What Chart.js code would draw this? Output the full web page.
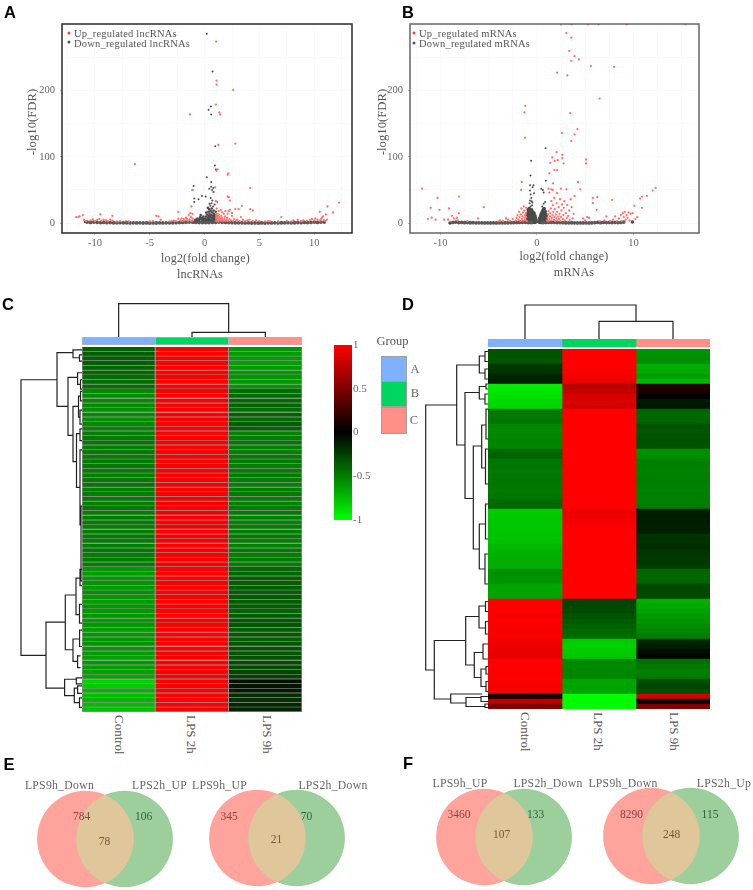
<!DOCTYPE html>
<html>
<head>
<meta charset="utf-8">
<title>lncRNA and mRNA expression panels</title>
<script src="https://cdn.jsdelivr.net/npm/chart.js@4"></script>
<style>
  html, body { margin: 0; padding: 0; background: #fff; }
  #page { position: relative; width: 753px; height: 890px; overflow: hidden; font-family: "Liberation Serif", serif; }
  #page canvas, #page .lbl { position: absolute; }
  .lbl { white-space: nowrap; color: #666; }
  .panel { font-family: "Liberation Sans", sans-serif; font-weight: bold; font-size: 16.5px; color: #000; }
</style>
</head>
<body>
<div id="page"></div>
<script>
// ---- panel A: volcano, lncRNAs [log2FC, -log10FDR]
const upA = [[1.06,274],[1.09,215],[1.09,209],[2.6,201],[1.03,179],[1.34,167],[1.43,164],[-1.34,164],[1.25,118],[2.8,120],[-6.35,89],[1.18,81],[1.09,79],[2.16,75],[2.1,73],[4.16,53],[.97,54],[2.1,40],[2.2,39],[2.3,34],[1.03,33],[1.15,32],[3.4,26],[2.8,21],[3.1,21],[4.16,21],[4.4,19],[-2.4,17],[-1.2,25],[-1.1,50],[11.2,25],[12.25,31],[11.7,16],[10.5,17],[11.06,13],[10.8,10],[11.15,5],[7,9],[-8.4,11],[-9.5,13],[-11.1,12],[-11.4,10],[-11.7,9],[-11.5,9.5],
  [1.05,3],[1.05,6],[1.05,9],[1.05,12],[1.1,14],[1.15,4],[1.15,8],[1.2,11],[1.25,2.5],[1.3,6],[1.3,13],[1.35,9],[1.4,4],[1.45,7],[1.5,3],[1.5,11],[1.6,5],[1.6,8],[1.7,3],[1.75,14],[1.8,6],[1.85,10],[1.9,3],[2,5],[2.05,8],[2.15,3],[2.2,18],[2.25,6],[2.4,4],[2.5,11],[2.6,3],[2.7,6],[2.9,3.5],[3,5],[3.2,3],[3.5,5],[3.7,3],[3.9,4],[4.1,5],[4.4,3],[4.7,4],[5,3],[5.5,2.5],[1.1,22],[1.3,18],[1.5,20],[1.6,16],[1.9,18],[2.1,14],[2.3,20],[2.5,15],[3.3,9],
  [-1.05,4],[-1.1,7],[-1.2,3],[-1.25,9],[-1.35,5],[-1.45,12],[-1.5,3.5],[-1.6,6],[-1.7,8],[-1.8,4],[-1.9,6],[-2,3],[-2.1,7],[-2.2,4],[-2.4,6.5],[-2.6,3],[-2.8,3.5],[-3,3],[-3.2,2.5],[-4,5],[-4.2,10],[-4.4,11],[-4.7,3],[-5,2.5],[-1.1,14],[-1.3,15],
  [-11,5],[-10.8,3],[-10.4,4],[-10.2,5.5],[-10,3],[-9.8,4.5],[-9.6,6],[-9.4,3.5],[-9.2,5],[-9,4],[-8.8,3],[-8.6,5],[-8.4,3.5],[-8,2.5],[-7.7,3],[-7.2,3],[-6.9,2.5],
  [5.8,3],[6,2.5],[6.7,2.5],[7.5,3],[7.9,2.5],[8.1,4],[8.5,5],[8.8,3],[9,4],[9.3,3.5],[9.6,4.5],[9.8,6],[10,4],[10.1,7],[10.3,5],[10.5,3.5],[10.6,6],[10.7,8],[10.9,4.5],[11,3]];
const downA = [[.2,286],[.73,229],[.36,171],[.58,176],[.6,164],[.97,116],[.94,87],[1.03,81],[.2,69],[.6,62],[-1,56],[-1.1,50],[.43,52],[.8,53],[.6,55],[.82,47],[.68,50],[-.24,41],[-.94,37],[-.55,36],[-.94,32],[.1,40],[-10.9,1.5],
  [-1,1],[-.9,3],[-.85,5],[-.8,2],[-.7,4],[-.65,7],[-.6,1.5],[-.5,3],[-.45,6],[-.4,9],[-.3,2],[-.25,5],[-.2,8],[-.1,3],[-.05,1],[0,4],[.05,7],[.1,2],[.15,10],[.2,5],[.22,13],[.25,1],[.3,8],[.32,3],[.35,17],[.38,11],[.4,6],[.42,21],[.45,14],[.48,2],[.5,9],[.52,26],[.55,18],[.58,5],[.6,12],[.62,30],[.65,22],[.68,8],[.7,16],[.72,3],[.75,11],[.78,25],[.8,6],[.82,19],[.85,14],[.88,9],[.9,2],[.92,28],[.95,12],[.98,6],[1,3],[1.02,17],[1,10],[.7,34],[.55,38],[.45,29],[.3,23],[.15,16],[-.1,10],[-.35,12],[.6,3],[.4,2],[.2,3],[0,1.5],[-.2,1.5],[-.5,1],[.75,1.5],[.9,5],[.65,4],[.5,4.5],[.3,5],[.1,5],[-.1,6],[-.3,7],[-.55,4.5],[-.75,1.5],[-.95,2]];
const bandA = [[-10.7,1.5],[-10.4,1],[-10.1,1.5],[-9.8,1],[-9.5,.8],[-9.2,1],[-8.9,.6],[-8.6,.8],[-8.3,.5],[-8,.4],[-7.7,.6],[-7.4,.3],[-7.1,.5],[-6.8,.2],[-6.5,.3],[-6.2,.2],[-5.9,.3],[-5.6,.1],[-5.3,.2],[-5,.1],[-4.7,.2],[-4.4,.1],[-4.1,.3],[-3.8,.2],[-3.5,.4],[-3.2,.3],[-2.9,.5],[-2.6,.6],[-2.3,.8],[-2,1],[-1.7,1.2],[-1.4,1.5],[-1.1,1.5],[-.8,1],[-.5,.8],[-.2,.8],[.1,.8],[.4,.8],[.7,1],[1,1.2],[1.3,1.5],[1.6,1.2],[1.9,1],[2.2,.8],[2.5,.6],[2.8,.5],[3.1,.3],[3.4,.4],[3.7,.2],[4,.3],[4.3,.1],[4.6,.2],[4.9,.1],[5.2,.2],[5.5,.1],[5.8,.3],[6.1,.2],[6.4,.3],[6.7,.2],[7,.5],[7.3,.3],[7.6,.6],[7.9,.4],[8.2,.5],[8.5,.8],[8.8,.6],[9.1,1],[9.4,.8],[9.7,1],[10,1.5],[10.3,1],[10.6,1.5],[10.9,1.5]];

// ---- panel B: volcano, mRNAs
const upB = [[2.5,300],[3.6,300],[5.3,300],[6.4,300],[9.3,300],[15.4,300],[3.05,287],[3.56,280],[3.36,260],[3.9,252],[4.36,247],[3.56,245],[5.6,237],[8,236],[2.1,227],[3.15,223],[6.5,188],[3.46,166],[-1.2,177],[-1.3,167],[-1.25,129],[4.2,142],[3.9,134],[2.6,136],[3.56,124],[2.04,107],[2.63,103],[2.63,98],[1.6,99],[1.83,94],[2.15,95],[5.1,96],[5.1,90],[2.77,90],[1.38,91],[1.83,80],[2.1,80],[1.3,75],[1.66,60],[4.26,62],[-1.56,62],[-1.63,50],[3.05,51],[4.5,51],[1.2,52],[1.5,51],[1.65,50],[1.3,46],[3.9,41],[5.8,38],[6.26,39],[5.8,30],[7.8,35],[6.2,20],[12.3,53],[12,49],[11.4,41],[10.9,40],[10.7,37],[10.9,23],[10.1,26],[-11.9,52],[-10.3,38],[-8.06,40],[-11,23],[-10.1,20],[-9.1,22],[-5.5,24],[-11.3,6],[-10.9,8],[-10.5,5],[-9.6,5],[-9.2,5],[-8.8,11],[-8.6,7],[-8.3,8],[-8.1,15],[-8.2,4],[-6.1,7],[-7.2,3],
  [-2.2,4],[-2.1,8],[-2,12],[-1.9,5],[-1.85,17],[-1.8,9],[-1.7,3],[-1.65,13],[-1.6,22],[-1.55,6],[-1.5,10],[-1.45,16],[-1.4,3.5],[-1.35,25],[-1.3,8],[-1.3,19],[-1.25,12],[-1.2,5],[-1.15,15],[-1.1,23],[-1.1,9],[-1.05,3],[-2.5,6],[-2.8,3],[-3,5],[-3.2,7],[-3.5,3],[-3.8,4],[-4,2.5],
  [1.05,4],[1.1,8],[1.15,13],[1.2,18],[1.2,3],[1.3,6],[1.35,10],[1.4,15],[1.45,22],[1.5,4],[1.55,8],[1.6,12],[1.65,27],[1.7,17],[1.75,5],[1.8,9],[1.85,21],[1.9,3],[1.95,13],[2,7],[2.05,30],[2.1,17],[2.15,4],[2.2,10],[2.25,24],[2.3,6],[2.35,14],[2.4,36],[2.45,3],[2.5,9],[2.55,19],[2.6,28],[2.7,6],[2.75,12],[2.8,23],[2.85,33],[2.9,4],[3,15],[3.1,8],[3.15,27],[3.25,11],[3.35,19],[3.4,5],[3.5,36],[3.6,24],[3.7,7],[3.8,14],[1.8,38],[2.1,45],[2.5,52],[1.5,33],[4.8,7],[5,4],[5.2,9],[5.4,8],[6.5,3],[7,4],[7.2,10],[7.6,3],[7.9,5],[8.1,10],[8.3,3],
  [8.5,7],[8.7,12],[8.8,3],[8.9,15],[9,9],[9.1,17],[9.2,5],[9.3,12],[9.4,8],[9.5,16],[9.6,4],[9.7,14],[9.9,15],[10.2,6],[10.4,9]];
const downB = [[.9,113],[-.6,94],[-.66,72],[.93,64],[.45,52],[.62,50],[-.7,57],[-.35,57],[-.45,54],[-.72,49],[.7,46],[-.65,43],[-.3,45],[-.58,38],[-.72,34],[-.45,31],[.85,32],[.7,29],[.55,25],[9.9,1.5],[-9,0],
  [-1,1],[-1,5],[-1,10],[-.95,15],[-.95,3],[-.95,8],[-.9,20],[-.9,12],[-.85,1],[-.85,6],[-.85,17],[-.8,3],[-.8,10],[-.8,22],[-.75,14],[-.75,7],[-.7,1],[-.7,18],[-.7,4],[-.65,11],[-.65,25],[-.6,7],[-.6,15],[-.6,2],[-.55,20],[-.55,10],[-.5,4],[-.5,13],[-.5,27],[-.45,1],[-.45,8],[-.45,17],[-.4,11],[-.4,4],[-.35,14],[-.35,7],[-.3,2],[-.3,10],[-.25,5],[-.2,1],[-.2,7],[-.15,3],[-.75,30],[-.55,33],[-.3,15],[-.2,11],[-.15,8],[-.1,5],[-.1,2],
  [.2,2],[.25,5],[.3,1],[.3,8],[.35,3],[.4,11],[.4,6],[.45,1],[.45,14],[.5,4],[.5,9],[.55,2],[.55,17],[.6,6],[.6,12],[.65,1],[.65,20],[.7,4],[.7,9],[.7,15],[.75,2],[.75,22],[.8,7],[.8,12],[.85,3],[.85,18],[.9,5],[.9,10],[.9,14],[.95,1],[.95,7],[1,3],[1,11]];
const bandB = [[-8.7,1],[-8.4,1.5],[-8.1,.8],[-7.8,1],[-7.5,.6],[-7.2,.8],[-6.9,.5],[-6.6,.6],[-6.3,.4],[-6,.3],[-5.7,.4],[-5.4,.2],[-5.1,.3],[-4.8,.2],[-4.5,.3],[-4.2,.2],[-3.9,.4],[-3.6,.3],[-3.3,.5],[-3,.4],[-2.7,.6],[-2.4,.7],[-2.1,.8],[-1.8,1],[-1.5,1.2],[-1.2,1.2],[-.9,1],[-.6,.8],[.6,.8],[.9,1],[1.2,1.2],[1.5,1.2],[1.8,1],[2.1,.8],[2.4,.7],[2.7,.6],[3,.5],[3.3,.4],[3.6,.5],[3.9,.3],[4.2,.2],[4.5,.3],[4.8,.2],[5.1,.3],[5.4,.2],[5.7,.4],[6,.8],[6.3,1],[6.6,.6],[6.9,1],[7.2,.8],[7.5,1],[7.8,.8],[8.1,1],[8.4,.8],[8.7,1],[9,1.5]];

// ---- panel C heatmap, one value per row (-1 green .. 1 red)
const heatCControl = [-.38,-.37,-.39,-.38,-.4,-.41,-.43,-.42,-.44,-.55,-.56,-.54,-.55,-.57,-.55,-.56,-.55,-.54,-.5,-.49,-.48,-.5,-.49,-.5,-.48,-.49,-.5,-.5,-.49,-.48,-.5,-.5,-.49,-.5,-.48,-.5,-.49,-.5,-.51,-.5,-.49,-.5,-.5,-.48,-.5,-.49,-.5,-.6,-.61,-.6,-.59,-.6,-.58,-.6,-.61,-.6,-.6,-.59,-.62,-.6,-.61,-.6,-.6,-.58,-.6,-.62,-.63,-.6,-.61,-.64,-.66,-.82,-.8,-.72,-.74,-.72,-.75,-.76];
const heatCLps2 = [.98,1,.98,1,.97,1,.98,1,.99,.97,1,.98,1,.99,1,.98,1,1,.98,1,.99,1,.98,1,1,.97,1,.99,1,.98,1,.97,.98,.96,1,.97,.98,1,.97,.99,.96,.98,1,.97,.99,.98,.97,1,.99,1,.98,1,1,.99,1,.98,1,1,.99,1,.98,1,1,.99,1,1,.98,1,1,.99,1,.98,1,1,.99,1,1,.98];
const heatCLps9 = [-.6,-.61,-.62,-.63,-.6,-.6,-.59,-.6,-.6,-.43,-.42,-.41,-.4,-.44,-.39,-.42,-.38,-.4,-.52,-.5,-.49,-.5,-.52,-.5,-.49,-.51,-.5,-.49,-.5,-.52,-.5,-.49,-.5,-.51,-.5,-.49,-.5,-.52,-.5,-.5,-.49,-.51,-.5,-.49,-.5,-.48,-.5,-.42,-.4,-.39,-.38,-.37,-.38,-.36,-.37,-.38,-.4,-.37,-.36,-.35,-.37,-.36,-.38,-.34,-.33,-.35,-.32,-.31,-.3,-.28,-.26,-.06,-.08,-.1,-.18,-.2,-.16,-.14];
// ---- panel D heatmap
const heatDControl = [-.33,-.33,-.34,-.22,-.2,-.15,-.12,-.92,-.9,-.88,-.85,-.84,-.47,-.48,-.46,-.53,-.54,-.53,-.52,-.53,-.4,-.39,-.47,-.47,-.48,-.47,-.46,-.47,-.48,-.47,-.41,-.4,-.8,-.79,-.78,-.78,-.77,-.77,-.76,-.72,-.7,-.69,-.68,-.68,-.56,-.57,-.58,-.65,-.65,-.64,.98,1,1,.98,1,.99,.97,.98,.95,.93,.92,.9,1,1,.99,.99,.98,.97,.96,.08,.75,.5];
const heatDLps2 = [1,1,1,1,.97,.96,.93,.72,.78,.85,.85,.82,1,1,1,1,1,1,1,1,1,1,1,1,1,1,1,1,1,1,1,1,.93,.94,.96,.98,1,1,1,1,1,1,1,1,1,1,1,1,1,1,-.27,-.28,-.3,-.33,-.36,-.38,-.41,-.42,-.8,-.82,-.8,-.79,-.53,-.54,-.53,-.52,-.65,-.64,-.65,-1,-.98,-.98];
const heatDLps9 = [-.58,-.57,-.56,-.68,-.66,-.62,-.72,.14,.1,.02,-.1,-.08,-.4,-.41,-.4,-.33,-.34,-.33,-.32,-.33,-.57,-.56,-.5,-.5,-.51,-.5,-.49,-.5,-.51,-.5,-.5,-.49,-.12,-.11,-.12,-.13,-.12,-.2,-.2,-.18,-.2,-.22,-.22,-.24,-.4,-.41,-.4,-.28,-.29,-.28,-.68,-.66,-.64,-.6,-.58,-.55,-.52,-.5,-.16,-.12,-.06,-.02,-.44,-.47,-.5,-.49,-.3,-.28,-.3,.85,.03,.5];

// dendrogram merges: [height, branchA, branchB, heightOfChildA, heightOfChildB]
const mergesRowC = [[61,7,65.9,25,36],[25,1.2,12.7,9,14],[9,.6,2.3,0,2.5],[2.5,1.7,3,0,0],[14,6.5,18.9,4.4,9],[4.4,5.5,8,0,1.5],[1.5,7,9,0,0],[9,12.7,24.5,3.5,5.5],[3.5,10.5,15,1.5,2],[1.5,9.5,11.5,0,0],[2,13.5,16.5,0,0],[5.5,18.5,30,2,2],[2,17.5,20,0,0],[2,22,38,0,1],[1,34,50,0,0],[36,58.8,72.9,16.7,17.4],[16.7,53,64.7,6,9],[6,49.4,57.2,2,2.5],[2,47.5,51,0,0],[2.5,55,59,0,0],[9,62.4,67.2,2.4,4.4],[2.4,60.5,64,0,0],[4.4,66,68.5,1.5,1.5],[17.4,71,74.5,5.7,7.7],[5.7,70.7,72,0,0],[7.7,72.9,76,4.4,2.5],[4.4,72.4,74,0,0],[2.5,75,77,0,0]];
const mergesColC = [[4.7,1.5,2.5,0,0],[33.3,.5,2,0,4.7]];
const mergesRowD = [[62.3,11.2,64.2,31.3,53.7],[31.3,3.2,19.2,8.7,23],[8.7,1.4,4.8,3,3],[3,.5,2.5,0,0],[3,4,6,0,0],[23,8.7,29.9,8.7,14.7],[8.7,7.5,10,2,3],[2,7,8,0,0],[3,9,11,0,0],[14.7,19.4,40,6.3,8.7],[6.3,15.2,23.8,2,2.5],[2,12,18,0,0],[2.5,20,27,0,0],[8.7,35,44,2.5,3],[2.5,31,38,0,0],[3,41,47,0,0],[53.7,58.3,70,22.3,37.3],[22.3,53.5,63.2,9,13.7],[9,51.4,55.8,2.5,2.5],[2.5,50.5,52.5,0,0],[2.5,54.5,57,0,0],[13.7,60.7,65.7,5,7],[5,59,62,0,0],[7,64,67.5,2,2],[2,63.5,65,0,0],[2,66.5,68.5,0,0],[37.3,69,70.8,6,22],[22,69.7,71.5,7,3],[7,69.5,70.5,0,0],[3,71,71.7,0,0]];
const mergesColD = [[17.6,1.5,2.5,0,0],[34,.5,2,0,17.6]];

const heatColumns = ['Control', 'LPS 2h', 'LPS 9h'];
const groupNames = ['A', 'B', 'C'];
const groupColors = ['#7fb1ff', '#00d65f', '#ff8f87'];
const scaleTicks = [-1, -.5, 0, .5, 1];

// venn counts: left only, both, right only
const vennE1 = {names: ['LPS9h_Down', 'LPS2h_UP'], counts: [784, 78, 106]};
const vennE2 = {names: ['LPS9h_UP', 'LPS2h_Down'], counts: [345, 21, 70]};
const vennF1 = {names: ['LPS9h_UP', 'LPS2h_Down'], counts: [3460, 107, 133]};
const vennF2 = {names: ['LPS9h_Down', 'LPS2h_Up'], counts: [8290, 248, 115]};

const page = document.getElementById('page');
const SERIF = '"Liberation Serif", serif';
Chart.defaults.animation = false;
Chart.defaults.responsive = false;
Chart.defaults.layout.autoPadding = false;
Chart.defaults.font.family = SERIF;
Chart.defaults.plugins.legend.display = false;
Chart.defaults.plugins.tooltip.enabled = false;

function newCanvas(left, top, w, h) {
    const c = document.createElement('canvas');
    c.width = w; c.height = h;
    c.style.left = left + 'px'; c.style.top = top + 'px';
    c.style.width = w + 'px'; c.style.height = h + 'px';
    page.appendChild(c);
    return c.getContext('2d');
}

// real text placed on the page, centred on (x, y) unless align is left
function label(str, x, y, o = {}) {
    const d = document.createElement('div');
    d.className = 'lbl ' + (o.cls || '');
    d.textContent = str;
    d.style.left = x + 'px'; d.style.top = y + 'px';
    if (o.size) d.style.fontSize = o.size + 'px';
    if (o.color) d.style.color = o.color;
    if (o.spacing) d.style.letterSpacing = o.spacing + 'px';
    const tx = o.align === 'left' ? '0' : '-50%';
    d.style.transform = `translate(${tx},-50%)` + (o.rotate ? ` rotate(${o.rotate}deg)` : '');
    page.appendChild(d);
    return d;
}

const toXY = pts => pts.map(p => ({x: p[0], y: p[1]}));

function fixScale(size) {
    return s => {
        if (s.isHorizontal()) s.height = size; else s.width = size;
        s.paddingLeft = s.paddingRight = s.paddingTop = s.paddingBottom = 0;
    };
}

const frame = {
    id: 'frame',
    afterDatasetsDraw(chart, args, opts) {
        const a = chart.chartArea, ctx = chart.ctx;
        ctx.save();
        ctx.strokeStyle = opts.color;
        ctx.lineWidth = 1.5;
        ctx.strokeRect(a.left, a.top, a.right - a.left, a.bottom - a.top);
        ctx.restore();
    }
};

function volcano(box, xr, up, down, band, frameColor, xLabelStep, coreR) {
    const ctx = newCanvas(box.left - 40, box.top - 5, box.w + 45, box.h + 5 + 25);
    const red = '#ff7169', grey = '#4b4b4b';
    const yLabelled = v => v % 100 === 0 && v < 300;
    new Chart(ctx, {
        type: 'scatter',
        data: {datasets: [
            {data: toXY(up), pointRadius: 1.15, backgroundColor: red, borderWidth: 0},
            {data: toXY(band), pointRadius: 1.9, backgroundColor: '#5a5a5a', borderWidth: 0},
            // scattered high points stay small, the crowded foot of the plot is solid
            {data: toXY(down), pointRadius: c => c.raw.y > 24 ? 1 : coreR, backgroundColor: grey, borderWidth: 0}
        ]},
        options: {
            layout: {padding: {top: 5, right: 5}},
            scales: {
                x: {
                    min: xr[0], max: xr[1],
                    afterFit: fixScale(25),
                    border: {display: false},
                    grid: {color: '#f9f9f9', tickLength: 2, tickColor: c => c.tick.value % xLabelStep === 0 ? '#bbb' : 'transparent'},
                    ticks: {stepSize: 2.5, includeBounds: false, autoSkip: false, maxRotation: 0, color: '#666', font: {size: 10.5}, padding: 2,
                        callback: v => v % xLabelStep === 0 ? String(v) : ''}
                },
                y: {
                    min: -15, max: 300.6,
                    afterFit: fixScale(40),
                    border: {display: false},
                    grid: {color: '#f9f9f9', tickLength: 2, tickColor: c => yLabelled(c.tick.value) ? '#bbb' : 'transparent'},
                    ticks: {stepSize: 50, includeBounds: false, autoSkip: false, color: '#666', font: {size: 10.5}, padding: 5,
                        callback: v => yLabelled(v) ? String(v) : ''}
                }
            },
            plugins: {frame: {color: frameColor}}
        },
        plugins: [frame]
    });
}

volcano({left: 62, top: 24, w: 290, h: 209}, [-13, 13.44], upA, downA, bandA, '#2b2b2b', 5, 1.3);
volcano({left: 410, top: 24, w: 289, h: 209}, [-13.15, 16.8], upB, downB, bandB, '#666', 10, 1.8);

// legends and axis captions of the volcano panels
function volcanoLegend(x, y, names) {
    names.forEach((n, i) => {
        label(n, x + 5, y + i * 10.3, {align: 'left', size: 10.5, color: '#555', spacing: .2});
    });
}
volcanoLegend(69, 32.5, ['Up_regulated lncRNAs', 'Down_regulated lncRNAs']);
volcanoLegend(414, 33, ['Up_regulated mRNAs', 'Down_regulated mRNAs']);
function legendDot(x, y, c) {
    const d = label('', x, y, {});
    d.style.width = '3px'; d.style.height = '3px';
    d.style.borderRadius = '50%';
    d.style.background = c;
}
legendDot(69, 32.5, '#ff3b30'); legendDot(69, 42, '#555');
legendDot(413.7, 33, '#ff3b30'); legendDot(413.7, 43, '#555');

label('log2(fold change)', 205.5, 258, {size: 12, spacing: .2, color: '#555'});
label('lncRNAs', 200, 274, {size: 12.3, color: '#555'});
label('log2(fold change)', 564, 256, {size: 12, spacing: .2, color: '#555'});
label('mRNAs', 574, 271.5, {size: 12.3, color: '#555'});
label('-log10(FDR)', 32, 122, {size: 12.7, rotate: -90, color: '#555'});
label('-log10(FDR)', 382, 122, {size: 12.7, rotate: -90, color: '#555'});

// value -> colour of the heat scale: green, black, red
function heatColor(v) {
    return v >= 0 ? `rgb(${Math.round(v * 255)},0,0)` : `rgb(0,${Math.round(-v * 255)},0)`;
}

function heatmap(box, columns, colorOf, border) {
    const ctx = newCanvas(box.left, box.top, box.w, box.h);
    new Chart(ctx, {
        type: 'bar',
        data: {
            labels: columns[0].map((v, i) => i),
            datasets: columns.map((vals, c) => ({
                data: vals.map(() => [c, c + 1]),
                backgroundColor: vals.map(colorOf),
                borderColor: border ? border.color : 'transparent',
                borderWidth: border ? (c === 0 ? border.first : border.rest) : 0,
                borderSkipped: false,
                grouped: false,
                barPercentage: 1,
                categoryPercentage: 1
            }))
        },
        options: {
            indexAxis: 'y',
            scales: {
                x: {type: 'linear', min: 0, max: 3, display: false},
                y: {display: false}
            }
        }
    });
}

const rowBorder = {color: '#928c8c', first: {left: 1, right: 1, bottom: 1}, rest: {right: 1, bottom: 1}};
heatmap({left: 82, top: 347, w: 220, h: 365}, [heatCControl, heatCLps2, heatCLps9], heatColor, rowBorder);
heatmap({left: 488, top: 349, w: 222, h: 360}, [heatDControl, heatDLps2, heatDLps9], heatColor, null);
// group annotation strips, a column per group
const stripBorder = {color: '#b5b5b5', first: {left: 1, top: 1, bottom: 1}, rest: {top: 1, bottom: 1, right: 1}};
function strip(box, border) {
    const ctx = newCanvas(box.left, box.top, box.w, box.h);
    new Chart(ctx, {
        type: 'bar',
        data: {
            labels: [''],
            datasets: groupNames.map((g, c) => ({
                data: [[c, c + 1]],
                backgroundColor: groupColors[c],
                borderColor: border ? border.color : 'transparent',
                borderWidth: border ? (c === 0 ? border.first : border.rest) : 0,
                borderSkipped: false,
                grouped: false,
                barPercentage: 1,
                categoryPercentage: 1
            }))
        },
        options: {
            indexAxis: 'y',
            scales: {x: {type: 'linear', min: 0, max: 3, display: false}, y: {display: false}}
        }
    });
}
strip({left: 82, top: 337, w: 220, h: 8}, stripBorder);
strip({left: 488, top: 339, w: 222, h: 8}, null);

function dendroPoints(merges, rowWise) {
    const pts = [];
    merges.forEach(([h, a, b, ha, hb]) => {
        const seq = [[ha, a], [h, a], [h, b], [hb, b]];
        seq.forEach(([hh, pos]) => pts.push(rowWise ? {x: hh, y: pos} : {x: pos, y: hh}));
        pts.push({x: null, y: null});
    });
    return pts;
}

function dendro(box, merges, rowWise, range, extent) {
    const ctx = newCanvas(box.left, box.top, box.w, box.h);
    new Chart(ctx, {
        type: 'scatter',
        data: {datasets: [{
            data: dendroPoints(merges, rowWise),
            showLine: true, spanGaps: false, pointRadius: 0,
            borderColor: '#222', borderWidth: 1.2, clip: false
        }]},
        options: {
            scales: rowWise ? {
                x: {min: 0, max: extent, reverse: true, display: false},
                y: {min: 0, max: range, reverse: true, display: false}
            } : {
                x: {min: 0, max: range, display: false},
                y: {min: 0, max: extent, display: false}
            }
        }
    });
}
dendro({left: 18, top: 347, w: 64, h: 365}, mergesRowC, true, 78, 64);
dendro({left: 82, top: 300, w: 220, h: 37}, mergesColC, false, 3, 37);
dendro({left: 424, top: 349, w: 64, h: 360}, mergesRowD, true, 72, 64);
dendro({left: 488, top: 302, w: 222, h: 37}, mergesColD, false, 3, 37);

// column names under the heatmaps, read top to bottom
function columnNames(xs, top) {
    heatColumns.forEach((n, i) => {
        const d = label(n, xs[i], top, {size: 13, color: '#555'});
        d.style.writingMode = 'vertical-rl';
        d.style.transform = 'translate(-50%,0)';
    });
}
columnNames([119, 191, 267], 715);
columnNames([525, 598, 674], 712);

// colour scale
(function () {
    const ctx = newCanvas(334, 340, 60, 185);
    new Chart(ctx, {
        type: 'bar',
        data: {labels: [''], datasets: [{
            data: [[-1, 1]],
            barPercentage: 1, categoryPercentage: 1,
            backgroundColor(c) {
                const a = c.chart.chartArea;
                if (!a) return '#000';
                const g = c.chart.ctx.createLinearGradient(0, a.bottom, 0, a.top);
                g.addColorStop(0, heatColor(-1));
                g.addColorStop(.5, heatColor(0));
                g.addColorStop(1, heatColor(1));
                return g;
            }
        }]},
        options: {
            layout: {padding: {top: 5, bottom: 5}},
            scales: {
                x: {display: false},
                y: {
                    position: 'right', min: -1, max: 1,
                    afterFit: fixScale(42),
                    border: {display: false},
                    grid: {display: false, drawTicks: false},
                    afterBuildTicks: s => { s.ticks = scaleTicks.map(v => ({value: v})); },
                    ticks: {color: '#666', font: {size: 11}, padding: 1, callback: v => String(v)}
                }
            }
        }
    });
})();

// group key
label('Group', 392.5, 341, {size: 12.5, color: '#555'});
groupNames.forEach((g, i) => {
    const d = label('', 381, 356 + i * 25.4, {align: 'left'});
    d.style.transform = 'none';
    d.style.boxSizing = 'border-box';
    d.style.width = '26px'; d.style.height = i === 2 ? '27px' : '26px';
    d.style.background = groupColors[i];
    d.style.border = '1.5px solid #a0a0a0';
    label(g, i === 2 ? 414 : 415, [369, 393, 420][i], {size: 12.5, color: '#666'});
});

// venn pairs, drawn as bubbles on hidden scales; lens is refilled from the two arcs
const lens = {
    id: 'lens',
    afterDatasetsDraw(chart) {
        const [a, b] = chart.getDatasetMeta(0).data;
        const r = chart.data.datasets[0].pointRadiusPx;
        const ctx = chart.ctx;
        ctx.save();
        ctx.beginPath(); ctx.arc(a.x, a.y, r, 0, Math.PI * 2); ctx.clip();
        ctx.beginPath(); ctx.arc(b.x, b.y, r, 0, Math.PI * 2);
        ctx.fillStyle = '#dfc69b';
        ctx.fill();
        ctx.restore();
    }
};

function venn(cx, cy, set, nameXs, nameY, numXs, numY) {
    const R = 48.3, half = 19.6, W = 140, H = 100;
    const ctx = newCanvas(cx - W / 2, cy - H / 2, W, H);
    new Chart(ctx, {
        type: 'bubble',
        data: {datasets: [{
            data: [{x: -half, y: 0, r: R}, {x: half, y: 0, r: R}],
            pointRadiusPx: R,
            backgroundColor: ['#ffa49c', '#9ccf9c'],
            borderWidth: 0,
            clip: false
        }]},
        options: {
            scales: {
                x: {min: -W / 2, max: W / 2, display: false},
                y: {min: -H / 2, max: H / 2, display: false}
            }
        },
        plugins: [lens]
    });
    label(set.names[0], nameXs[0], nameY, {size: 11.7, spacing: .3, color: '#666'});
    label(set.names[1], nameXs[1], nameY, {size: 11.7, spacing: .3, color: '#666'});
    const colors = ['#8a4545', '#6f5a3a', '#2f5f3f'];
    set.counts.forEach((n, i) => label(String(n), numXs[i], numY[i], {size: 11.5, color: colors[i]}));
}
venn(105.2, 839, vennE1, [59.5, 159.5], 785, [81.5, 104.5, 143.5], [815.5, 840.5, 815.5]);
venn(276.8, 838, vennE2, [219.5, 333], 784.5, [229, 276.5, 306.5], [815.5, 839, 815.5]);
venn(504, 837, vennF1, [460, 548], 783, [459, 501.5, 535.5], [814, 834, 814]);
venn(671, 836, vennF2, [623, 724], 783, [631.5, 671.5, 710], [814, 833.5, 814]);

// panel letters
[['A', 10, 12], ['B', 408, 12], ['C', 8, 304], ['D', 408, 304], ['E', 9, 764], ['F', 408, 763]]
    .forEach(([t, x, y]) => label(t, x, y, {cls: 'panel'}));
</script>
</body>
</html>
